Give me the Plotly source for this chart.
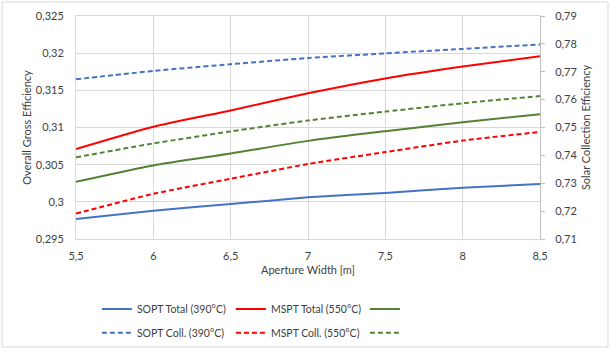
import plotly.graph_objects as go

# ---- data ----
aperture_width = [5.5, 6.0, 6.5, 7.0, 7.5, 8.0, 8.5]

sopt_total = [0.2977, 0.2988, 0.2997, 0.3006, 0.3012, 0.3019, 0.3024]
mspt_total = [0.3071, 0.3101, 0.3123, 0.3146, 0.3166, 0.3182, 0.3196]
green_total = [0.3027, 0.3049, 0.3065, 0.3082, 0.3095, 0.3107, 0.3118]

sopt_coll = [0.7673, 0.7703, 0.7727, 0.7749, 0.7766, 0.7782, 0.7798]
mspt_coll = [0.7191, 0.7262, 0.7316, 0.7369, 0.7412, 0.7453, 0.7484]
green_coll = [0.7393, 0.7443, 0.7486, 0.7525, 0.7557, 0.7587, 0.7613]

x_tickvals = [5.5, 6.0, 6.5, 7.0, 7.5, 8.0, 8.5]
x_ticktext = ["5,5", "6", "6,5", "7", "7,5", "8", "8,5"]
y1_tickvals = [0.295, 0.300, 0.305, 0.310, 0.315, 0.320, 0.325]
y1_ticktext = ["0,295", "0,3", "0,305", "0,31", "0,315", "0,32", "0,325"]
y2_tickvals = [0.71, 0.72, 0.73, 0.74, 0.75, 0.76, 0.77, 0.78, 0.79]
y2_ticktext = ["0,71", "0,72", "0,73", "0,74", "0,75", "0,76", "0,77", "0,78", "0,79"]

names_total = ["SOPT Total (390°C)", "MSPT Total (550°C)", ""]
names_coll = ["SOPT Coll. (390°C)", "MSPT Coll. (550°C)", ""]

BLUE = "#4472C4"
RED = "#FF0000"
GREEN = "#548235"
TEXT = "#404040"
GRID = "#D9D9D9"
FONT = "Lato, 'Open Sans', sans-serif"
DASH = "5px,3px"

fig = go.Figure()

for vals, name, col in zip([sopt_total, mspt_total, green_total], names_total, [BLUE, RED, GREEN]):
    fig.add_trace(go.Scatter(x=aperture_width, y=vals, name=name, mode="lines",
                             line=dict(color=col, width=2, shape="spline", smoothing=0.6),
                             yaxis="y", legend="legend"))
for vals, name, col in zip([sopt_coll, mspt_coll, green_coll], names_coll, [BLUE, RED, GREEN]):
    fig.add_trace(go.Scatter(x=aperture_width, y=vals, name=name, mode="lines",
                             line=dict(color=col, width=2, dash=DASH, shape="spline", smoothing=0.6),
                             yaxis="y2", legend="legend2"))

legend_common = dict(orientation="h", x=0.045, xanchor="left", yanchor="middle",
                     entrywidth=89, entrywidthmode="pixels", traceorder="normal",
                     font=dict(family=FONT, size=10.5, color=TEXT),
                     bgcolor="rgba(0,0,0,0)", itemwidth=30, tracegroupgap=0)

fig.update_layout(
    width=610, height=352,
    margin=dict(l=76, r=70, t=16, b=113, autoexpand=False),
    paper_bgcolor="white", plot_bgcolor="white",
    font=dict(family=FONT, size=11, color=TEXT),
    separators=",.",
    xaxis=dict(range=[5.5, 8.5], tickvals=x_tickvals, ticktext=x_ticktext,
               showgrid=True, gridcolor=GRID, gridwidth=1,
               showline=True, linecolor=GRID, mirror=True, zeroline=False,
               ticks="outside", ticklen=7, tickcolor="rgba(0,0,0,0)",
               title=dict(text="Aperture Width [m]", standoff=5,
                          font=dict(family=FONT, size=11, color=TEXT))),
    yaxis=dict(range=[0.295, 0.325], tickvals=y1_tickvals, ticktext=y1_ticktext,
               showgrid=True, gridcolor=GRID, gridwidth=1,
               showline=True, linecolor=GRID, mirror=True, zeroline=False,
               ticks="outside", ticklen=9, tickcolor="rgba(0,0,0,0)",
               title=dict(text="Overall Gross Efficiency", standoff=1,
                          font=dict(family=FONT, size=11, color=TEXT))),
    yaxis2=dict(range=[0.71, 0.79], tickvals=y2_tickvals, ticktext=y2_ticktext,
                overlaying="y", side="right", showgrid=False, zeroline=False,
                showline=True, linecolor="#BFBFBF", ticks="outside", ticklen=4,
                tickcolor="#BFBFBF", ticklabelstandoff=8,
                title=dict(text="Solar Collection Efficiency", standoff=5,
                           font=dict(family=FONT, size=11, color=TEXT))),
    legend=dict(legend_common, y=-0.314),
    legend2=dict(legend_common, y=-0.42),
    showlegend=True,
)

# light outer chart frame
fig.add_shape(type="rect", xref="paper", yref="paper",
              x0=(2 - 76) / 464, x1=(608 - 76) / 464,
              y0=(239 - 347) / 223, y1=(239 - 2) / 223,
              line=dict(color="#D9D9D9", width=1), fillcolor="rgba(0,0,0,0)", layer="below")

fig.write_html("out.html")
